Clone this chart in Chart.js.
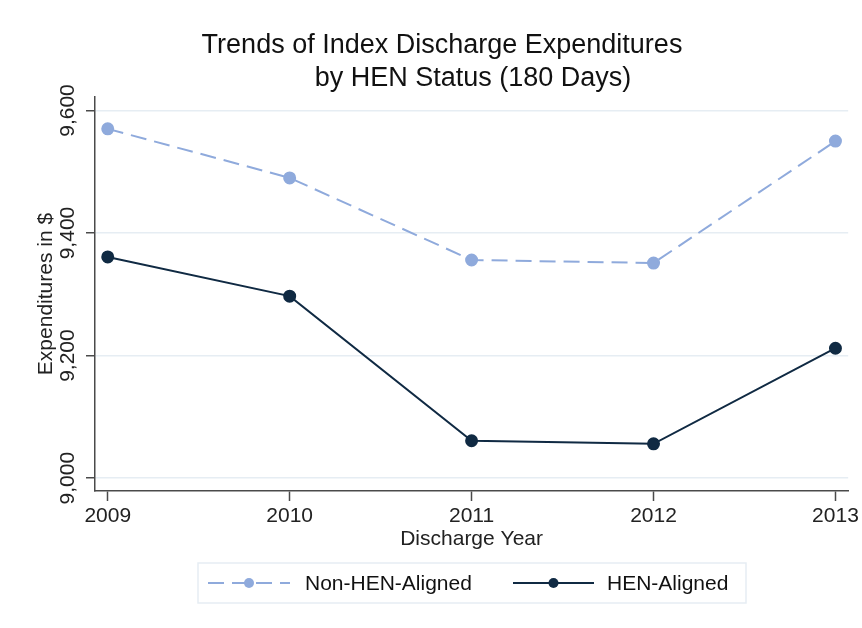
<!DOCTYPE html>
<html>
<head>
<meta charset="utf-8">
<script src="https://cdn.jsdelivr.net/npm/chart.js@4/dist/chart.umd.min.js"></script>
<style>
  html, body { margin: 0; padding: 0; background: #fff; }
  #wrap { width: 862px; height: 628px; }
</style>
</head>
<body>
<div id="wrap"><canvas id="henChart" width="862" height="628"></canvas></div>
<script>
// data
const years = [2009, 2010, 2011, 2012, 2013];
const nonHenAligned = [9570, 9490, 9356, 9351, 9550];
const henAligned = [9361, 9297, 9061, 9056, 9212];
const yTicks = [9000, 9200, 9400, 9600];
const titleLines = ["Trends of Index Discharge Expenditures", "by HEN Status (180 Days)"];

const FONT = "Arial, 'Liberation Sans', sans-serif";
const lightBlue = "#8faadc";
const navy = "#102a43";
const gridColor = "#e6edf3";
const axisColor = "#4a4a4a";

function toPoints(vals) {
  return years.map((yr, i) => ({ x: yr, y: vals[i] }));
}

// title, rotated y tick labels and legend box
const decorations = {
  id: "decorations",
  afterDraw(chart) {
    const ctx = chart.ctx;
    const yScale = chart.scales.y;
    ctx.save();
    ctx.fillStyle = "#111";
    ctx.font = "27px " + FONT;
    ctx.textAlign = "center";
    ctx.textBaseline = "alphabetic";
    ctx.fillText(titleLines[0], 442, 53);
    ctx.fillText(titleLines[1], 473, 86);

    // y tick labels, rotated like the original
    ctx.font = "21px " + FONT;
    ctx.fillStyle = "#222";
    yTicks.forEach(v => {
      const py = yScale.getPixelForValue(v);
      ctx.save();
      ctx.translate(68, py);
      ctx.rotate(-Math.PI / 2);
      ctx.textAlign = "center";
      ctx.textBaseline = "middle";
      ctx.fillText(v.toLocaleString("en-US"), 0, 0);
      ctx.restore();
    });

    // legend
    ctx.strokeStyle = gridColor;
    ctx.lineWidth = 1.5;
    ctx.strokeRect(198, 563, 548, 40);
    const items = [
      { ds: chart.data.datasets[0], x0: 208, x1: 290, tx: 305 },
      { ds: chart.data.datasets[1], x0: 513, x1: 594, tx: 607 }
    ];
    const ly = 583;
    items.forEach(it => {
      ctx.strokeStyle = it.ds.borderColor;
      ctx.lineWidth = 2;
      ctx.setLineDash(it.ds.borderDash || []);
      ctx.beginPath();
      ctx.moveTo(it.x0, ly);
      ctx.lineTo(it.x1, ly);
      ctx.stroke();
      ctx.setLineDash([]);
      ctx.fillStyle = it.ds.pointBackgroundColor;
      ctx.beginPath();
      ctx.arc((it.x0 + it.x1) / 2, ly, 5, 0, Math.PI * 2);
      ctx.fill();
      ctx.fillStyle = "#111";
      ctx.textAlign = "left";
      ctx.textBaseline = "middle";
      ctx.fillText(it.ds.label, it.tx, ly + 1);
    });
    ctx.restore();
  }
};

const ctx = document.getElementById("henChart").getContext("2d");
const henChart = new Chart(ctx, {
  type: "line",
  data: {
    datasets: [
      {
        label: "Non-HEN-Aligned",
        data: toPoints(nonHenAligned),
        borderColor: lightBlue,
        backgroundColor: lightBlue,
        pointBackgroundColor: lightBlue,
        pointBorderColor: lightBlue,
        borderDash: [16, 8],
        borderWidth: 2,
        pointRadius: 5.5,
        fill: false
      },
      {
        label: "HEN-Aligned",
        data: toPoints(henAligned),
        borderColor: navy,
        backgroundColor: navy,
        pointBackgroundColor: navy,
        pointBorderColor: navy,
        borderWidth: 2,
        pointRadius: 5.5,
        fill: false
      }
    ]
  },
  options: {
    responsive: false,
    animation: false,
    events: [],
    layout: { padding: { left: 0, right: 11, top: 97, bottom: 75.4 } },
    plugins: {
      legend: { display: false },
      title: { display: false },
      tooltip: { enabled: false }
    },
    scales: {
      x: {
        type: "linear",
        min: 2008.93,
        max: 2013.07,
        afterBuildTicks: scale => { scale.ticks = years.map(v => ({ value: v })); },
        afterFit: scale => { scale.height = 61.6; },
        grid: { display: true, drawOnChartArea: false, tickLength: 10, tickColor: axisColor, tickWidth: 1.5 },
        border: { color: axisColor, width: 1.5 },
        ticks: {
          color: "#222",
          font: { family: FONT, size: 21 },
          padding: 3,
          maxRotation: 0,
          callback: v => String(v)
        },
        title: {
          display: true,
          text: "Discharge Year",
          color: "#222",
          font: { family: FONT, size: 21 },
          padding: { top: 0, bottom: 1 }
        }
      },
      y: {
        min: 8979,
        max: 9622,
        afterBuildTicks: scale => { scale.ticks = yTicks.map(v => ({ value: v })); },
        afterFit: scale => { scale.width = 95; },
        grid: { color: gridColor, lineWidth: 1.5, tickLength: 9, tickColor: axisColor, tickWidth: 1.5 },
        border: { color: axisColor, width: 1.5 },
        ticks: { display: false },
        title: {
          display: true,
          text: "Expenditures in $",
          color: "#222",
          font: { family: FONT, size: 21 },
          padding: { top: 34, bottom: 0 }
        }
      }
    }
  },
  plugins: [decorations]
});
</script>
</body>
</html>
